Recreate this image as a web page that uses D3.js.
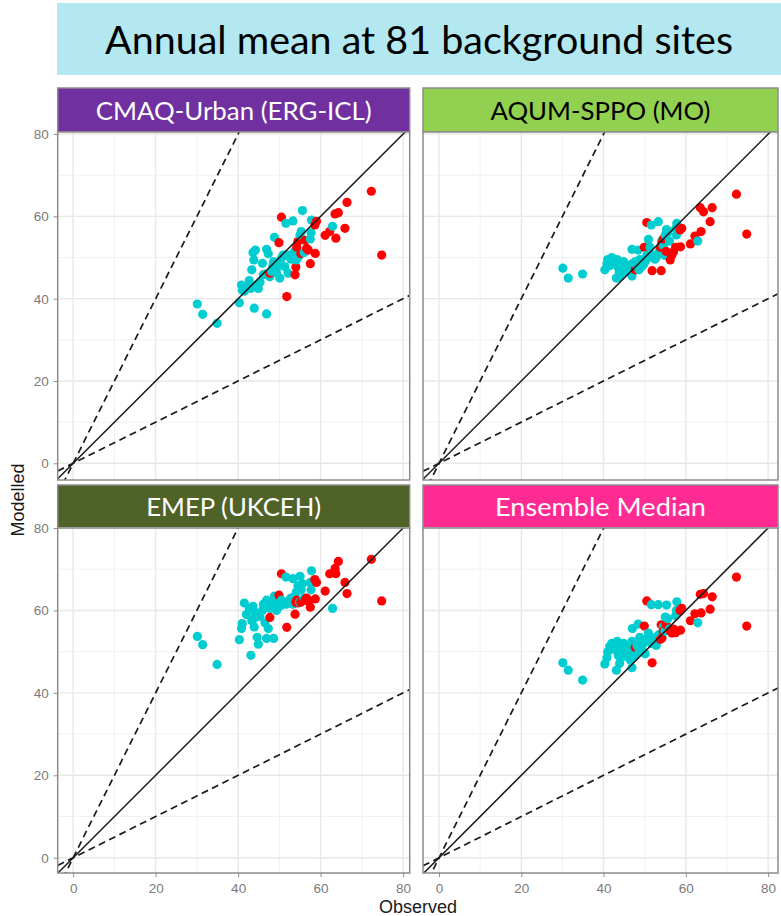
<!DOCTYPE html>
<html>
<head>
<meta charset="utf-8">
<script src="https://cdn.jsdelivr.net/npm/d3@7"></script>
<style>
  body { margin: 0; background: #ffffff; }
  svg { display: block; }
</style>
</head>
<body>
<svg id="chart" width="781" height="916"></svg>
<script>
// ---- Labels ----
const chartTitle = "Annual mean at 81 background sites";
const panelNames = ["CMAQ-Urban (ERG-ICL)", "AQUM-SPPO (MO)", "EMEP (UKCEH)", "Ensemble Median"];
const axisTicks = [0, 20, 40, 60, 80];
const minorTicks = [10, 30, 50, 70];
const xTitle = "Observed";
const yTitle = "Modelled";

// ---- Observed annual means (two site groups) ----
const obsCyan = [30.1, 31.4, 34.9, 40.3, 40.8, 41.0, 41.5, 42.0, 42.7, 43.1, 43.3, 43.6, 43.8, 43.9, 44.2, 44.6,
  44.9, 45.3, 45.9, 46.1, 46.5, 46.9, 46.9, 47.0, 47.3, 47.7, 48.1, 48.4, 48.6, 48.8, 49.0, 49.7, 50.1, 50.5,
  50.9, 51.3, 51.6, 51.7, 52.1, 52.5, 52.8, 53.3, 53.3, 53.7, 54.1, 54.5, 54.9, 55.0, 55.3, 55.6, 56.0, 57.5,
  57.7, 57.8, 62.9, 49.3];
const obsRed = [47.7, 49.9, 50.5, 51.8, 53.8, 54.0, 54.2, 54.5, 55.2, 56.2, 56.6, 57.0, 57.5, 58.6, 58.7, 59.0,
  61.1, 62.2, 63.5, 63.7, 64.3, 65.9, 66.4, 72.3, 74.8];

// ---- Modelled annual means per model ----
const cmaqCyan = [38.7, 36.2, 34.0, 39.0, 43.3, 42.1, 41.8, 42.9, 44.4, 42.5, 47.0, 51.2, 49.4, 37.7, 51.8, 43.3,
  42.5, 44.0, 48.6, 45.8, 46.0, 52.0, 36.3, 45.8, 50.9, 45.3, 46.6, 47.8, 49.0, 54.9, 48.2, 47.8, 45.0, 49.8,
  50.6, 47.8, 58.3, 50.6, 46.2, 50.6, 49.6, 58.9, 50.4, 51.5, 49.4, 50.0, 50.6, 55.5, 56.3, 61.4, 51.2, 54.5,
  56.0, 59.1, 57.6, 46.3];
const cmaqRed = [46.2, 53.6, 59.8, 40.5, 45.8, 47.7, 52.5, 53.9, 51.0, 54.2, 52.2, 51.8, 48.5, 57.9, 51.0, 58.8,
  55.4, 56.3, 60.6, 54.7, 60.9, 57.1, 63.4, 66.1, 50.6];

const aqumCyan = [47.4, 45.0, 46.0, 47.0, 48.5, 49.5, 48.0, 50.0, 48.8, 45.0, 49.5, 47.5, 46.5, 45.3, 48.0, 47.0,
  49.0, 46.5, 48.0, 47.0, 46.3, 52.0, 45.5, 48.5, 47.5, 49.0, 48.0, 51.8, 47.0, 49.5, 48.0, 48.3, 49.0, 50.5,
  54.4, 52.5, 57.9, 50.0, 50.5, 49.6, 50.0, 58.7, 51.0, 52.0, 54.0, 53.0, 50.5, 55.5, 56.8, 56.0, 54.0, 57.0,
  55.5, 58.3, 54.0, 47.8];
const aqumRed = [47.0, 52.5, 58.5, 46.8, 52.5, 46.8, 53.5, 54.5, 51.5, 49.4, 50.6, 51.4, 52.5, 56.7, 52.6, 57.1,
  53.3, 55.2, 62.1, 56.3, 61.1, 58.7, 62.1, 65.4, 55.7];

const emepCyan = [53.7, 51.7, 46.9, 52.9, 55.6, 56.8, 61.8, 59.0, 60.5, 49.1, 57.5, 61.0, 58.0, 56.0, 59.5, 53.5,
  51.8, 58.5, 60.0, 61.5, 57.0, 62.5, 53.2, 61.0, 55.6, 60.5, 62.0, 61.5, 53.2, 63.5, 60.8, 62.0, 61.0, 62.5,
  61.5, 62.0, 68.1, 61.5, 62.0, 62.5, 63.0, 67.7, 61.5, 63.4, 64.5, 66.0, 62.0, 68.3, 65.0, 66.5, 63.0, 66.8,
  65.0, 69.6, 60.5, 60.0];
const emepRed = [58.3, 63.7, 68.9, 55.9, 59.1, 62.0, 62.5, 61.8, 62.0, 62.5, 63.0, 62.2, 60.8, 67.5, 62.8, 66.8,
  64.7, 68.9, 70.2, 68.9, 71.9, 66.8, 64.1, 72.4, 62.3];

const ensCyan = [47.3, 45.5, 43.1, 47.0, 48.5, 50.0, 51.3, 52.0, 50.5, 45.5, 52.5, 49.0, 51.5, 47.1, 50.5, 48.7,
  52.0, 49.5, 51.0, 50.0, 48.0, 52.5, 46.1, 55.6, 50.5, 49.0, 51.5, 56.7, 50.0, 53.5, 51.0, 52.0, 49.5, 53.0,
  54.5, 53.7, 61.4, 52.0, 52.8, 52.8, 51.5, 61.4, 54.0, 54.2, 53.5, 56.0, 55.0, 58.4, 61.3, 58.0, 55.5, 58.7,
  60.0, 62.1, 57.0, 50.5];
const ensRed = [51.0, 56.2, 62.3, 47.3, 53.0, 56.5, 53.3, 55.0, 56.5, 55.0, 54.5, 55.5, 54.6, 60.0, 55.2, 60.5,
  57.5, 59.2, 63.9, 59.4, 64.1, 60.3, 63.3, 68.1, 56.2];

// Reference lines: 1:1, 2:1 and 1:2
const refSlopes = [1, 2, 0.5];

// ---- Styling ----
const stripFill = ["#7030A0", "#92D050", "#4F6228", "#FF2A92"];
const stripInk = ["#ffffff", "#000000", "#ffffff", "#ffffff"];
const groupColour = { cyan: "#00CDD0", red: "#FF0000" };

const panelModels = [
  { cyan: cmaqCyan, red: cmaqRed },
  { cyan: aqumCyan, red: aqumRed },
  { cyan: emepCyan, red: emepRed },
  { cyan: ensCyan, red: ensRed }
];

// Facet grid geometry
const cols = [
  { x0: 57.7, x1: 409.7, dom: [-3.75, 81.6] },
  { x0: 423, x1: 778, dom: [-3.9, 82.4] }
];
const rows = [
  { y0: 132, y1: 480, dom: [-4.06, 80.5], stripTop: 88 },
  { y0: 528, y1: 873, dom: [-3.7, 80.0], stripTop: 485 }
];

const svg = d3.select("#chart");
const bannerFont = "Lato, 'Open Sans', sans-serif";
const axisFont = "'Liberation Sans', Arial, sans-serif";

// ---- Title banner ----
svg.append("rect").attr("x", 57).attr("y", 3).attr("width", 724).attr("height", 72)
  .attr("fill", "#B3E8F0");
svg.append("text").attr("x", 419).attr("y", 53.5)
  .attr("text-anchor", "middle")
  .attr("font-family", bannerFont).attr("font-size", 39).attr("fill", "#000")
  .attr("textLength", 628).attr("lengthAdjust", "spacingAndGlyphs")
  .text(chartTitle);

const defs = svg.append("defs");
const stripTextWidth = [276, 220, 175, 211];

panelNames.forEach((name, i) => {
  const c = cols[i % 2], r = rows[Math.floor(i / 2)];
  const x = d3.scaleLinear().domain(c.dom).range([c.x0, c.x1]);
  const y = d3.scaleLinear().domain(r.dom).range([r.y1, r.y0]);
  const g = svg.append("g");

  // Strip
  g.append("rect").attr("x", c.x0).attr("y", r.stripTop)
    .attr("width", c.x1 - c.x0).attr("height", r.y0 - r.stripTop)
    .attr("fill", stripFill[i]).attr("stroke", "#8c8c8c").attr("stroke-width", 1.5);
  g.append("text").attr("x", (c.x0 + c.x1) / 2).attr("y", (r.stripTop + r.y0) / 2 + 9.5)
    .attr("text-anchor", "middle")
    .attr("font-family", bannerFont).attr("font-size", 25.5).attr("fill", stripInk[i])
    .attr("textLength", stripTextWidth[i]).attr("lengthAdjust", "spacingAndGlyphs")
    .text(name);

  // Panel background + grid
  g.append("rect").attr("x", c.x0).attr("y", r.y0)
    .attr("width", c.x1 - c.x0).attr("height", r.y1 - r.y0).attr("fill", "#ffffff");
  const grid = g.append("g");
  grid.selectAll(".vminor").data(minorTicks).join("line")
    .attr("x1", d => x(d)).attr("x2", d => x(d)).attr("y1", r.y0).attr("y2", r.y1)
    .attr("stroke", "#f1f1f1").attr("stroke-width", 1);
  grid.selectAll(".hminor").data(minorTicks).join("line")
    .attr("y1", d => y(d)).attr("y2", d => y(d)).attr("x1", c.x0).attr("x2", c.x1)
    .attr("stroke", "#f1f1f1").attr("stroke-width", 1);
  grid.selectAll(".vmajor").data(axisTicks).join("line")
    .attr("x1", d => x(d)).attr("x2", d => x(d)).attr("y1", r.y0).attr("y2", r.y1)
    .attr("stroke", "#e8e8e8").attr("stroke-width", 1.4);
  grid.selectAll(".hmajor").data(axisTicks).join("line")
    .attr("y1", d => y(d)).attr("y2", d => y(d)).attr("x1", c.x0).attr("x2", c.x1)
    .attr("stroke", "#e8e8e8").attr("stroke-width", 1.4);

  // Clip region for the panel
  const clipId = "clip" + i;
  defs.append("clipPath").attr("id", clipId).append("rect")
    .attr("x", c.x0).attr("y", r.y0).attr("width", c.x1 - c.x0).attr("height", r.y1 - r.y0);

  const plot = g.append("g").attr("clip-path", `url(#${clipId})`);

  // Points, interleaved by observed value
  const m = panelModels[i];
  const pts = obsCyan.map((o, k) => ({ o, v: m.cyan[k], grp: "cyan" }))
    .concat(obsRed.map((o, k) => ({ o, v: m.red[k], grp: "red" })))
    .sort((a, b) => a.o - b.o);
  plot.selectAll("circle").data(pts).join("circle")
    .attr("cx", d => x(d.o)).attr("cy", d => y(d.v)).attr("r", 4.6)
    .attr("fill", d => groupColour[d.grp]);

  // Reference lines
  refSlopes.forEach(s => {
    const xs = [c.dom[0], c.dom[1]];
    plot.append("line")
      .attr("x1", x(xs[0])).attr("y1", y(s * xs[0]))
      .attr("x2", x(xs[1])).attr("y2", y(s * xs[1]))
      .attr("stroke", "#1a1a1a").attr("stroke-width", s === 1 ? 1.5 : 1.7)
      .attr("stroke-dasharray", s === 1 ? null : "7,4.5");
  });

  // Border
  g.append("rect").attr("x", c.x0).attr("y", r.y0)
    .attr("width", c.x1 - c.x0).attr("height", r.y1 - r.y0)
    .attr("fill", "none").attr("stroke", "#8c8c8c").attr("stroke-width", 1.5);

  // Axes on outer panels only
  if (i % 2 === 0) {
    const ay = d3.axisLeft(y).tickValues(axisTicks).tickSize(4).tickPadding(5);
    const ag = g.append("g").attr("transform", `translate(${c.x0},0)`).call(ay);
    ag.select(".domain").remove();
    ag.selectAll("line").attr("stroke", "#8c8c8c");
    ag.selectAll("text").attr("fill", "#7a7a7a").attr("font-size", 13.5)
      .attr("font-family", axisFont);
  }
  if (i >= 2) {
    const ax = d3.axisBottom(x).tickValues(axisTicks).tickSize(4).tickPadding(6);
    const ag = g.append("g").attr("transform", `translate(0,${r.y1})`).call(ax);
    ag.select(".domain").remove();
    ag.selectAll("line").attr("stroke", "#8c8c8c");
    ag.selectAll("text").attr("fill", "#7a7a7a").attr("font-size", 13.5)
      .attr("font-family", axisFont);
  }
});

// Axis titles
svg.append("text").attr("x", 418).attr("y", 913).attr("text-anchor", "middle")
  .attr("font-family", axisFont).attr("font-size", 18)
  .attr("fill", "#1a1a1a").text(xTitle);
svg.append("text").attr("transform", "translate(23.5,500) rotate(-90)").attr("text-anchor", "middle")
  .attr("font-family", axisFont).attr("font-size", 18)
  .attr("fill", "#1a1a1a").text(yTitle);
</script>
</body>
</html>
